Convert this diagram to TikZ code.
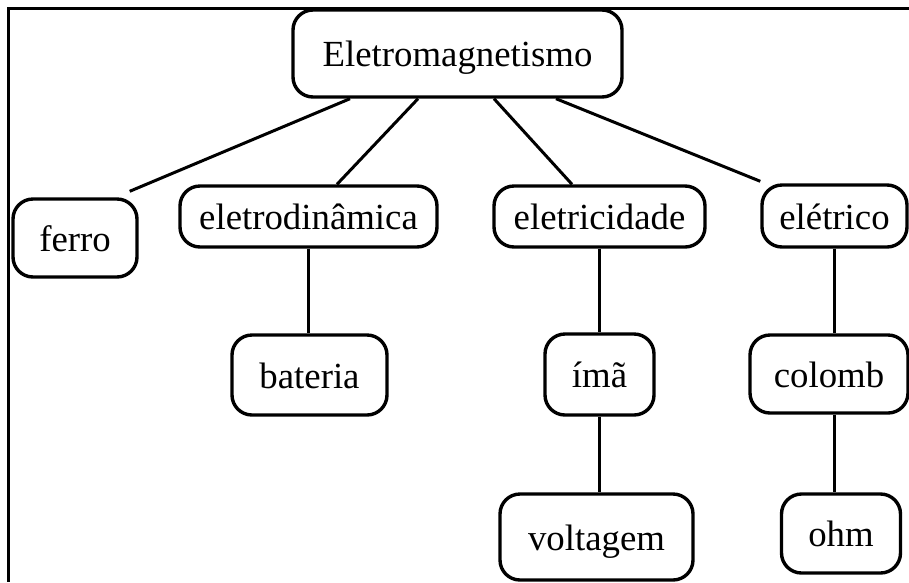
\documentclass[tikz,border=0pt]{standalone}
\usepackage{fontspec}
\setmainfont{Liberation Serif}
\usetikzlibrary{positioning}
\tikzset{
	conceito/.style={draw, line width=3.4pt, rounded corners=20pt, inner sep=0pt, text height=30pt, text depth=4pt, font=\fontsize{36.8}{40}\selectfont},
	ligacao/.style={line width=3pt}
}

\begin{document}
\begin{tikzpicture}[x=1pt,y=-1pt]
			\useasboundingbox (0,0) rectangle (909,582);
			\draw[line width=3pt] (909,8) -- (8,8) -- (8,582);
			\node[conceito, minimum width=329pt, minimum height=87pt] (eletromag) at (457.5,53.5) {Eletromagnetismo};
			\node[conceito, minimum width=124pt, minimum height=78pt] (ferro) at (75,238) {ferro};
			\node[conceito, minimum width=257pt, minimum height=61pt] (eletrodin) at (308.5,216.5) {eletrodinâmica};
			\node[conceito, minimum width=211pt, minimum height=61pt] (eletricid) at (599.5,216.5) {eletricidade};
			\node[conceito, minimum width=145pt, minimum height=62pt] (eletrico) at (834.5,216) {elétrico};
			\node[conceito, minimum width=155pt, minimum height=80pt] (bateria) at (309.5,375) {bateria};
			\node[conceito, minimum width=109pt, minimum height=81pt] (ima) at (599.5,374.5) {ímã};
			\node[conceito, minimum width=158pt, minimum height=78pt] (colomb) at (829,374) {colomb};
			\node[conceito, minimum width=193pt, minimum height=86pt] (voltagem) at (596.5,537) {voltagem};
			\node[conceito, minimum width=119pt, minimum height=79pt] (ohm) at (841,533.5) {ohm};
			\path[ligacao]
			([xshift=-107.5pt]eletromag.south) edge ([xshift=-9pt,yshift=6pt]ferro.north east)
			([xshift=-39.5pt]eletromag.south) edge ([xshift=28.5pt]eletrodin.north)
			([xshift=36.5pt]eletromag.south) edge ([xshift=-27.5pt]eletricid.north)
			([xshift=98.5pt]eletromag.south) edge ([yshift=2pt]eletrico.north west)
			(eletrodin.south) edge (eletrodin.south |- bateria.north)
			(eletricid.south) edge (ima.north)
			(ima.south) edge (ima.south |- voltagem.north)
			(eletrico.south) edge (eletrico.south |- colomb.north)
			(colomb.south -| eletrico.south) edge (eletrico.south |- ohm.north);
		\end{tikzpicture}
\end{document}
